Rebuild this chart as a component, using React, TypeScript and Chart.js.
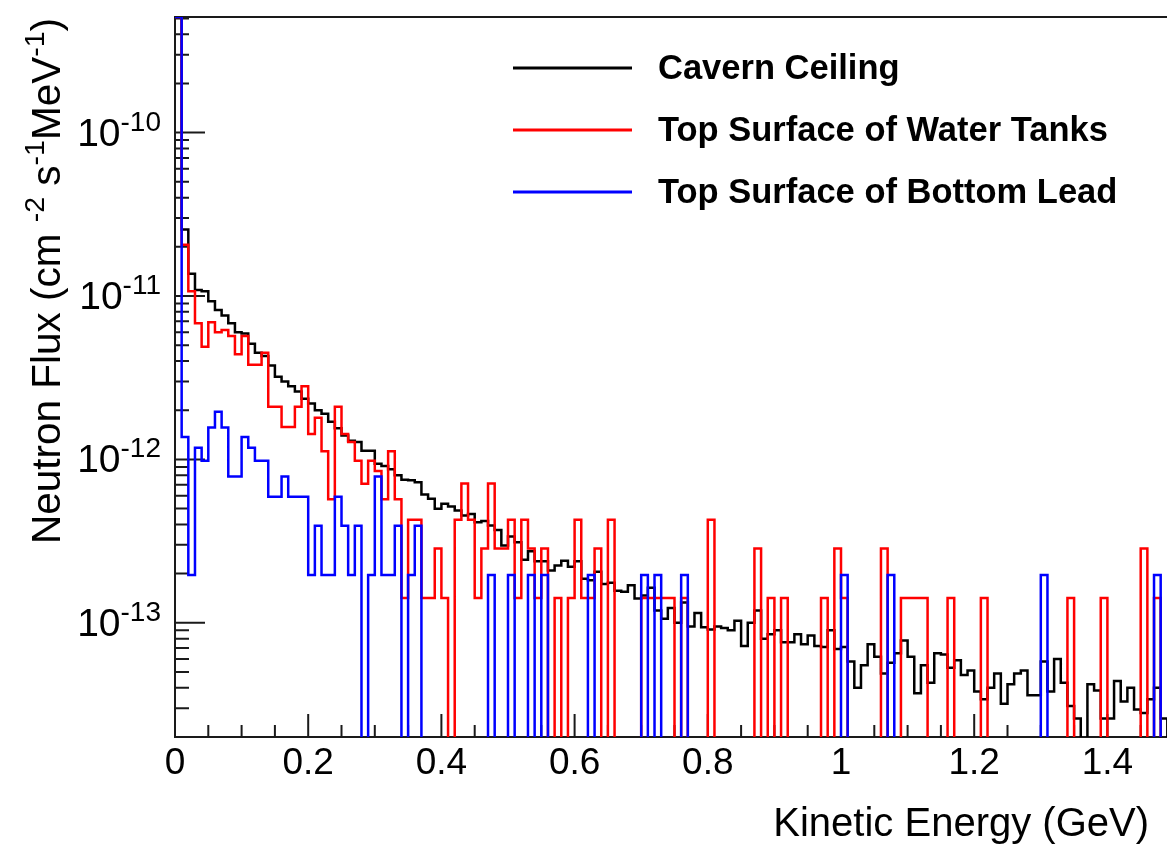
import { useEffect, useRef } from "react";
import { Chart, registerables } from "chart.js";

Chart.register(...registerables);

// ---------------- data ----------------
// Histograms with 0.01 GeV bins from 0 to 1.5 GeV (150 bins). Flux in cm^-2 s^-1 MeV^-1.
const BIN_WIDTH = 0.01;
const X_MIN = 0;
const X_MAX = 1.5;
const Y_MIN = 2e-14;
const Y_MAX = 5.1e-10;

const X_TICK_VALUES = [0, 0.2, 0.4, 0.6, 0.8, 1.0, 1.2, 1.4];
const X_TICK_LABELS = ["0", "0.2", "0.4", "0.6", "0.8", "1", "1.2", "1.4"];
const Y_TICK_EXPONENTS = [-13, -12, -11, -10];

const SERIES_LABELS = ["Cavern Ceiling", "Top Surface of Water Tanks", "Top Surface of Bottom Lead"];
const SERIES_COLORS = ["#000000", "#ff0000", "#0000ff"];

const X_TITLE = "Kinetic Energy (GeV)";

const cavernCeiling = [
  5.1e-10, 2.55e-11, 1.37e-11, 1.09e-11, 1.07e-11, 9.3e-12, 8.2e-12, 7.6e-12, 6.8e-12, 6.0e-12,
  5.9e-12, 5.1e-12, 4.5e-12, 4.3e-12, 3.75e-12, 3.2e-12, 3.0e-12, 2.8e-12, 2.6e-12, 2.35e-12,
  2.2e-12, 2.0e-12, 1.9e-12, 1.7e-12, 1.55e-12, 1.4e-12, 1.3e-12, 1.28e-12, 1.13e-12, 1.13e-12,
  9.4e-13, 9.1e-13, 8.7e-13, 8.0e-13, 7.5e-13, 7.45e-13, 7.25e-13, 6.1e-13, 5.74e-13, 4.98e-13,
  5.35e-13, 5.15e-13, 4.87e-13, 4.53e-13, 4.64e-13, 4.12e-13, 4.2e-13, 3.94e-13, 3.7e-13, 2.97e-13,
  3.37e-13, 3.11e-13, 2.43e-13, 2.74e-13, 2.38e-13, 2.38e-13, 2.09e-13, 2.24e-13, 2.4e-13, 2.2e-13,
  2.38e-13, 1.86e-13, 1.82e-13, 2.05e-13, 1.73e-13, 1.76e-13, 1.57e-13, 1.55e-13, 1.7e-13, 1.41e-13,
  1.47e-13, 1.64e-13, 1.19e-13, 1.06e-13, 1.23e-13, 1.0e-13, 1.33e-13, 9.5e-14, 1.15e-13, 9.4e-14,
  9.1e-14, 9.5e-14, 9.3e-14, 9.0e-14, 1.03e-13, 7.2e-14, 1.0e-13, 1.19e-13, 8.0e-14, 8.5e-14,
  9.0e-14, 7.6e-14, 7.6e-14, 8.5e-14, 7.4e-14, 8.35e-14, 7.2e-14, 7.1e-14, 9.0e-14, 6.9e-14,
  7.1e-14, 5.8e-14, 4.0e-14, 5.5e-14, 7.4e-14, 6.2e-14, 4.9e-14, 5.7e-14, 6.5e-14, 7.8e-14,
  6.2e-14, 3.7e-14, 5.5e-14, 4.3e-14, 6.5e-14, 6.4e-14, 5.3e-14, 5.9e-14, 4.8e-14, 5.1e-14,
  3.8e-14, 3.4e-14, 4.0e-14, 4.9e-14, 3.2e-14, 4.2e-14, 4.9e-14, 5.1e-14, 3.6e-14, 3.6e-14,
  5.8e-14, 3.8e-14, 6.0e-14, 4.3e-14, 3.1e-14, 2.6e-14, 0, 4.2e-14, 3.85e-14, 2.6e-14,
  2.6e-14, 4.4e-14, 3.3e-14, 4.0e-14, 2.95e-14, 2.8e-14, 3.4e-14, 4.0e-14, 2.6e-14, 0,
];

const waterTanks = [
  5.1e-10, 2.06e-11, 1.07e-11, 6.8e-12, 4.9e-12, 6.9e-12, 6.0e-12, 6.2e-12, 5.7e-12, 4.4e-12,
  5.7e-12, 3.8e-12, 3.8e-12, 4.5e-12, 2.1e-12, 2.1e-12, 1.58e-12, 1.58e-12, 2.1e-12, 2.8e-12,
  1.43e-12, 1.8e-12, 1.12e-12, 5.7e-13, 2.1e-12, 1.43e-12, 1.28e-12, 9.8e-13, 7.1e-13, 9.8e-13,
  8.5e-13, 5.7e-13, 1.12e-12, 5.7e-13, 1.42e-13, 4.27e-13, 4.27e-13, 1.42e-13, 1.42e-13, 2.85e-13,
  1.42e-13, 0, 4.27e-13, 7.12e-13, 4.27e-13, 1.42e-13, 2.85e-13, 7.12e-13, 2.85e-13, 2.85e-13,
  4.27e-13, 1.42e-13, 4.27e-13, 2.85e-13, 1.42e-13, 2.85e-13, 0, 1.42e-13, 0, 1.42e-13,
  4.27e-13, 1.42e-13, 1.42e-13, 2.85e-13, 0, 4.27e-13, 0, 0, 0, 0,
  1.42e-13, 1.42e-13, 1.42e-13, 1.42e-13, 1.42e-13, 0, 1.42e-13, 0, 0, 0,
  4.27e-13, 0, 0, 0, 0, 0, 0, 2.85e-13, 0, 1.42e-13,
  0, 1.42e-13, 0, 0, 0, 0, 0, 1.42e-13, 0, 2.85e-13,
  1.42e-13, 0, 0, 0, 0, 0, 2.85e-13, 0, 0, 1.42e-13,
  1.42e-13, 1.42e-13, 1.42e-13, 0, 0, 0, 1.42e-13, 0, 0, 0,
  0, 1.42e-13, 0, 0, 0, 0, 0, 0, 0, 0,
  0, 0, 0, 0, 1.42e-13, 0, 0, 0, 0, 1.42e-13,
  0, 0, 0, 0, 0, 2.85e-13, 0, 1.42e-13, 0, 0,
];

const bottomLead = [
  5.1e-10, 1.37e-12, 1.96e-13, 1.18e-12, 9.8e-13, 1.57e-12, 1.96e-12, 1.57e-12, 7.85e-13, 7.85e-13,
  1.37e-12, 1.18e-12, 9.8e-13, 9.8e-13, 5.9e-13, 5.9e-13, 7.85e-13, 5.9e-13, 5.9e-13, 5.9e-13,
  1.96e-13, 3.93e-13, 1.96e-13, 1.96e-13, 5.9e-13, 3.93e-13, 1.96e-13, 3.93e-13, 0, 1.96e-13,
  7.85e-13, 1.96e-13, 1.96e-13, 3.93e-13, 0, 1.96e-13, 3.93e-13, 0, 0, 0,
  0, 0, 0, 0, 0, 0, 0, 1.96e-13, 0, 0,
  1.96e-13, 0, 0, 1.96e-13, 0, 1.96e-13, 0, 0, 0, 0,
  0, 0, 1.96e-13, 0, 0, 0, 0, 0, 0, 0,
  1.96e-13, 0, 1.96e-13, 0, 0, 0, 1.96e-13, 0, 0, 0,
  0, 0, 0, 0, 0, 0, 0, 0, 0, 0,
  0, 0, 0, 0, 0, 0, 0, 0, 0, 0,
  1.96e-13, 0, 0, 0, 0, 0, 0, 1.96e-13, 0, 0,
  0, 0, 0, 0, 0, 0, 0, 0, 0, 0,
  0, 0, 0, 0, 0, 0, 0, 0, 0, 0,
  1.96e-13, 0, 0, 0, 0, 0, 0, 0, 0, 0,
  0, 0, 0, 0, 0, 0, 0, 1.96e-13, 0, 0,
];

// ---------------- layout / style ----------------
const CANVAS_W = 1200;
const CANVAS_H = 844;
const PLOT = { left: 175, top: 17, right: 1174, bottom: 737 };
const FONT = '"Liberation Sans", Arial, Helvetica, sans-serif';
const EMPTY_BIN_FLOOR = 1e-17; // empty bins drop below the axis (log scale)

type Seg = { t: string; sup?: boolean };

function richWidth(ctx: CanvasRenderingContext2D, segs: Seg[], base: number, sup: number, weight = "normal") {
  let w = 0;
  for (const s of segs) {
    ctx.font = `${weight} ${s.sup ? sup : base}px ${FONT}`;
    w += ctx.measureText(s.t).width;
  }
  return w;
}

function drawRich(
  ctx: CanvasRenderingContext2D,
  segs: Seg[],
  x: number,
  y: number,
  base: number,
  sup: number,
  rise: number,
  weight = "normal"
) {
  let cx = x;
  for (const s of segs) {
    ctx.font = `${weight} ${s.sup ? sup : base}px ${FONT}`;
    ctx.fillText(s.t, cx, s.sup ? y - rise : y);
    cx += ctx.measureText(s.t).width;
  }
}

const rootStylePlugin = {
  id: "rootStyle",
  beforeDatasetsDraw(chart: any) {
    const { ctx, chartArea: a, scales } = chart;
    const xs = scales.x;
    const ys = scales.y;
    ctx.save();
    ctx.strokeStyle = "#1a1a1a";
    ctx.lineWidth = 2;
    ctx.lineCap = "butt";
    // frame
    ctx.strokeRect(a.left, a.top, a.right - a.left, a.bottom - a.top);
    // y ticks (log)
    ctx.beginPath();
    for (let e = -14; e <= -10; e++) {
      for (let m = 1; m <= 9; m++) {
        const v = m * Math.pow(10, e);
        if (v < Y_MIN * 0.999 || v > Y_MAX) continue;
        const py = ys.getPixelForValue(v);
        const len = m === 1 ? 30 : 14;
        ctx.moveTo(a.left, py);
        ctx.lineTo(a.left + len, py);
      }
    }
    // x ticks: minor every 0.05, major every 0.2
    for (let k = 0; k <= 30; k++) {
      const v = k * 0.05;
      const px = xs.getPixelForValue(v);
      const len = k % 4 === 0 ? 23 : 12;
      ctx.moveTo(px, a.bottom);
      ctx.lineTo(px, a.bottom - len);
    }
    ctx.stroke();
    ctx.restore();
  },
  afterDraw(chart: any) {
    const { ctx, scales } = chart;
    const xs = scales.x;
    const ys = scales.y;
    ctx.save();
    ctx.fillStyle = "#000";
    ctx.textBaseline = "alphabetic";

    // x tick labels
    ctx.font = `37px ${FONT}`;
    ctx.textAlign = "center";
    X_TICK_VALUES.forEach((v, i) => {
      ctx.fillText(X_TICK_LABELS[i], xs.getPixelForValue(v), 774);
    });

    // y tick labels 10^e
    ctx.textAlign = "left";
    for (const e of Y_TICK_EXPONENTS) {
      const py = ys.getPixelForValue(Math.pow(10, e));
      const segs: Seg[] = [{ t: "10" }, { t: String(e), sup: true }];
      const w = richWidth(ctx, segs, 39, 28);
      drawRich(ctx, segs, 161 - w, py + 13, 39, 28, 15);
    }

    // x title (right aligned)
    ctx.font = `40px ${FONT}`;
    ctx.textAlign = "right";
    ctx.fillText(X_TITLE, 1149, 836);

    // y title (rotated, right aligned at top)
    const ySegs: Seg[] = [
      { t: "Neutron Flux (cm " },
      { t: "-2", sup: true },
      { t: " s" },
      { t: "-1", sup: true },
      { t: "MeV" },
      { t: "-1", sup: true },
      { t: ")" },
    ];
    const tw = richWidth(ctx, ySegs, 40.5, 28.5);
    ctx.save();
    ctx.translate(60, 18 + tw);
    ctx.rotate(-Math.PI / 2);
    ctx.textAlign = "left";
    drawRich(ctx, ySegs, 0, 0, 40.5, 28.5, 16);
    ctx.restore();

    // legend
    const rows = [68, 130, 192];
    SERIES_LABELS.forEach((label, i) => {
      ctx.strokeStyle = SERIES_COLORS[i];
      ctx.lineWidth = 3;
      ctx.beginPath();
      ctx.moveTo(513, rows[i]);
      ctx.lineTo(632, rows[i]);
      ctx.stroke();
      ctx.font = `bold 34.5px ${FONT}`;
      ctx.textAlign = "left";
      ctx.textBaseline = "middle";
      ctx.fillStyle = "#000";
      ctx.fillText(label, 658, rows[i] + 1);
    });
    ctx.restore();
  },
};

function toSteps(values: number[]) {
  const pts = values.map((v, i) => ({ x: X_MIN + i * BIN_WIDTH, y: v > 0 ? v : EMPTY_BIN_FLOOR }));
  const last = values[values.length - 1];
  pts.push({ x: X_MIN + values.length * BIN_WIDTH, y: last > 0 ? last : EMPTY_BIN_FLOOR });
  return pts;
}

export default function App() {
  const ref = useRef<HTMLCanvasElement | null>(null);

  useEffect(() => {
    const canvas = ref.current;
    if (!canvas) return;
    const seriesValues = [cavernCeiling, waterTanks, bottomLead];
    const chart = new Chart(canvas, {
      type: "line",
      data: {
        datasets: seriesValues.map((vals, i) => ({
          label: SERIES_LABELS[i],
          data: toSteps(vals),
          borderColor: SERIES_COLORS[i],
          backgroundColor: SERIES_COLORS[i],
          borderWidth: 2.5,
          stepped: true,
          pointRadius: 0,
          fill: false,
          tension: 0,
          borderJoinStyle: "miter",
          borderCapStyle: "butt",
          order: 3 - i,
        })),
      },
      options: {
        animation: false,
        responsive: false,
        devicePixelRatio: 1,
        events: [],
        layout: {
          padding: {
            left: PLOT.left,
            top: PLOT.top,
            right: CANVAS_W - PLOT.right,
            bottom: CANVAS_H - PLOT.bottom,
          },
        },
        scales: {
          x: { type: "linear", min: X_MIN, max: X_MAX, display: false },
          y: { type: "logarithmic", min: Y_MIN, max: Y_MAX, display: false },
        },
        plugins: {
          legend: { display: false },
          tooltip: { enabled: false },
        },
      },
      plugins: [rootStylePlugin],
    } as any);
    return () => chart.destroy();
  }, []);

  return (
    <div
      style={{
        position: "fixed",
        left: 0,
        top: 0,
        width: 1167,
        height: 844,
        overflow: "hidden",
        background: "#ffffff",
      }}
    >
      <canvas
        ref={ref}
        width={CANVAS_W}
        height={CANVAS_H}
        style={{ display: "block", width: CANVAS_W, height: CANVAS_H }}
      />
    </div>
  );
}
